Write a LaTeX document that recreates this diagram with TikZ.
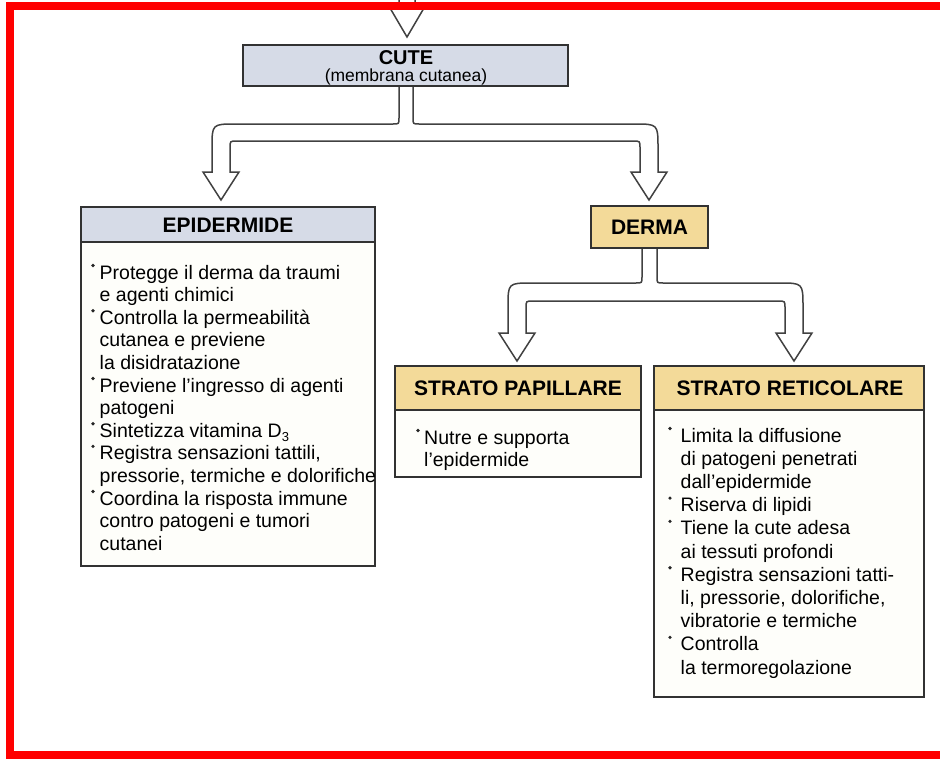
\documentclass[tikz,border=0pt]{standalone}
\usepackage{fontspec}
\setmainfont{Liberation Sans}
\definecolor{tanhead}{RGB}{243,218,153}
\definecolor{bluegrey}{RGB}{214,219,231}
\definecolor{bodyfill}{RGB}{254,254,250}
\definecolor{edgecol}{RGB}{50,50,50}
\definecolor{arrowcol}{RGB}{65,65,65}
\begin{document}
\begin{tikzpicture}[x=1pt,y=-1pt,
  boxline/.style={draw=edgecol, line width=1.5pt},
  bigarrow/.style={draw=arrowcol, line width=1.5pt, fill=white, line join=miter},
  bodytext/.style={anchor=base west, inner sep=0, font=\fontsize{19.5}{22}\selectfont},
  headtext/.style={inner sep=0, font=\fontsize{21}{24}\selectfont\bfseries},
  bul/.style={fill=black!85}
]
\useasboundingbox (0,0) rectangle (940,761);
\fill[white] (0,0) rectangle (940,761);

% top arrow
\draw[bigarrow] (399,-5) -- (399,8) -- (390,8) -- (407,37) -- (424,8) -- (415,8) -- (415,-5);

% branch arrow from CUTE
\draw[bigarrow] (399,86) -- (399,118) .. controls (399,124) .. (393,124)
  -- (236,124) .. controls (212,124) .. (212,148)
  -- (212,172) -- (203,172) -- (221,200) -- (239,172) -- (230,172)
  -- (230,148) .. controls (230,141) .. (237,141)
  -- (633,141) .. controls (640,141) .. (640,148)
  -- (640,172) -- (631,172) -- (649,200) -- (667,172) -- (658,172)
  -- (658,148) .. controls (658,124) .. (634,124)
  -- (419,124) .. controls (413,124) .. (413,118) -- (413,86);

% branch arrow from DERMA
\draw[bigarrow] (642,247) -- (642,277) .. controls (642,283) .. (636,283)
  -- (532,283) .. controls (508,283) .. (508,307)
  -- (508,333) -- (499,333) -- (517,361) -- (535,333) -- (526,333)
  -- (526,308) .. controls (526,301) .. (533,301)
  -- (778,301) .. controls (785,301) .. (785,308)
  -- (785,333) -- (776,333) -- (794,361) -- (812,333) -- (803,333)
  -- (803,307) .. controls (803,283) .. (779,283)
  -- (663,283) .. controls (657,283) .. (657,277) -- (657,247);

% CUTE box
\fill[bluegrey] (243,45) rectangle (568,86);
\draw[boxline] (243,45) rectangle (568,86);
\node[anchor=base, inner sep=0, font=\fontsize{20}{24}\selectfont\bfseries] (cute) at (406,64) {CUTE};
\node[anchor=base, inner sep=0, font=\fontsize{17.5}{20}\selectfont] (cutesub) at (406,81) {(membrana cutanea)};

% EPIDERMIDE box
\fill[bodyfill] (81,242) rectangle (375,566);
\fill[bluegrey] (81,207) rectangle (375,242);
\draw[boxline] (81,207) rectangle (375,566);
\draw[boxline] (81,242) -- (375,242);
\node[headtext] (epi) at (228,225) {EPIDERMIDE};
\foreach \t [count=\i from 0] in {
  {Protegge il derma da traumi},
  {e agenti chimici},
  {Controlla la permeabilità},
  {cutanea e previene},
  {la disidratazione},
  {Previene l’ingresso di agenti},
  {patogeni},
  {Sintetizza vitamina D\raisebox{-0.22em}{\fontsize{13}{13}\selectfont 3}},
  {Registra sensazioni tattili,},
  {pressorie, termiche e dolorifiche},
  {Coordina la risposta immune},
  {contro patogeni e tumori},
  {cutanei}}
  \node[bodytext] (e\i) at (99.5,279+22.6*\i) {\t};
\foreach \i in {0,2,5,7,8,10}
  \fill[bul] (93,279+22.6*\i-13.5) circle (1.8);

% DERMA box
\fill[tanhead] (591,206) rectangle (708,248);
\draw[boxline] (591,206) rectangle (708,248);
\node[headtext] (derma) at (649.5,227) {DERMA};

% STRATO PAPILLARE box
\fill[bodyfill] (395,410) rectangle (641,477);
\fill[tanhead] (395,366) rectangle (641,410);
\draw[boxline] (395,366) rectangle (641,477);
\draw[boxline] (395,410) -- (641,410);
\node[headtext] (pap) at (518,388) {STRATO PAPILLARE};
\node[bodytext] (p0) at (424,444) {Nutre e supporta};
\node[bodytext] (p1) at (424,466) {l’epidermide};
\fill[bul] (418,444-13.5) circle (1.8);

% STRATO RETICOLARE box
\fill[bodyfill] (654,410) rectangle (924,697);
\fill[tanhead] (654,366) rectangle (924,410);
\draw[boxline] (654,366) rectangle (924,697);
\draw[boxline] (654,410) -- (924,410);
\node[headtext] (ret) at (790,388) {STRATO RETICOLARE};
\foreach \t [count=\i from 0] in {
  {Limita la diffusione},
  {di patogeni penetrati},
  {dall’epidermide},
  {Riserva di lipidi},
  {Tiene la cute adesa},
  {ai tessuti profondi},
  {Registra sensazioni tatti-},
  {li, pressorie, dolorifiche,},
  {vibratorie e termiche},
  {Controlla},
  {la termoregolazione}}
  \node[bodytext] (r\i) at (680.5,442+23.2*\i) {\t};
\foreach \i in {0,3,4,6,9}
  \fill[bul] (670,442+23.2*\i-13.5) circle (1.8);

% red frame
\fill[red] (6,2) rectangle (940,10);
\fill[red] (6,2) rectangle (14,759);
\fill[red] (6,751) rectangle (940,759);
\end{tikzpicture}
\end{document}
